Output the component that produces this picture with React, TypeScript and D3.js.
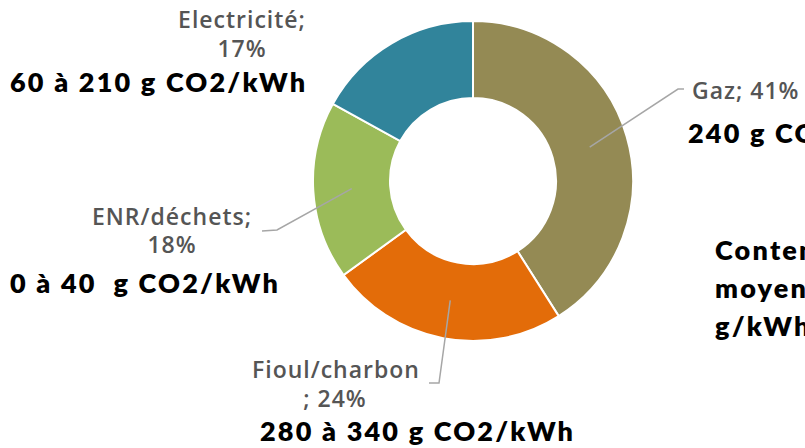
import React from "react";
import * as d3 from "d3";

const categories = ["Gaz", "Fioul/charbon", "ENR/déchets", "Electricité"];
const shares = [41, 24, 18, 17];
const colors = ["#948A54", "#E36C09", "#9BBB59", "#31849B"];
const intensity = ["240 g CO2/kWh", "280 à 340 g CO2/kWh", "0 à 40  g CO2/kWh", "60 à 210 g CO2/kWh"];
const sideNote = ["Contenu CO2", "moyen", "g/kWh"];

const W = 805;
const H = 448;
const cx = 473;
const cy = 181;
const outerR = 160;
const innerR = 83;

const grayFont = "'Open Sans', sans-serif";
const boldFont = "Lato, sans-serif";

export default function App() {
  const pie = d3.pie<number>().sort(null).value((d) => d);
  const arcs = pie(shares);
  const arc = d3.arc<d3.PieArcDatum<number>>().innerRadius(innerR).outerRadius(outerR);
  const mid = d3.arc<d3.PieArcDatum<number>>().innerRadius((innerR + outerR) / 2).outerRadius((innerR + outerR) / 2);

  // leader line bends and ends (null = no leader)
  const leaders: ([number, number][] | null)[] = [
    [[678, 89], [684, 89]],
    [[439, 383], [429, 383]],
    [[277, 230], [262, 231]],
    null,
  ];

  const line = d3.line();

  return (
    <svg width={W} height={H} style={{ position: "absolute", left: 0, top: 0, background: "#fff" }}>
      <g transform={`translate(${cx},${cy})`}>
        {arcs.map((a, i) => (
          <path key={i} d={arc(a) ?? ""} fill={colors[i]} stroke="#fff" strokeWidth={2} />
        ))}
      </g>
      {arcs.map((a, i) => {
        const pts = leaders[i];
        if (!pts) return null;
        const [mx, my] = mid.centroid(a);
        const all: [number, number][] = [[cx + mx, cy + my], ...pts];
        return <path key={i} d={line(all) ?? ""} fill="none" stroke="#A6A6A6" strokeWidth={1.5} />;
      })}

      <g fontFamily={grayFont} fontWeight={600} fontSize={23} fill="#555" letterSpacing={1}>
        <text x={692} y={99}>{`${categories[0]}; ${shares[0]}%`}</text>
        <text x={336} y={378} textAnchor="middle">{categories[1]}</text>
        <text x={335} y={407} textAnchor="middle">{`; ${shares[1]}%`}</text>
        <text x={172} y={225} textAnchor="middle">{`${categories[2]};`}</text>
        <text x={172} y={253} textAnchor="middle">{`${shares[2]}%`}</text>
        <text x={242} y={28} textAnchor="middle">{`${categories[3]};`}</text>
        <text x={242} y={57} textAnchor="middle">{`${shares[3]}%`}</text>
      </g>

      <g fontFamily={boldFont} fontWeight={800} fontSize={27} fill="#000" letterSpacing={2.2}>
        <text x={688} y={143}>{intensity[0]}</text>
        <text x={260} y={441}>{intensity[1]}</text>
        <text x={10} y={293} style={{ whiteSpace: "pre" }}>{intensity[2]}</text>
        <text x={10} y={92}>{intensity[3]}</text>
        {sideNote.map((t, i) => (
          <text key={i} x={715} y={260 + i * 38}>{t}</text>
        ))}
      </g>
    </svg>
  );
}
